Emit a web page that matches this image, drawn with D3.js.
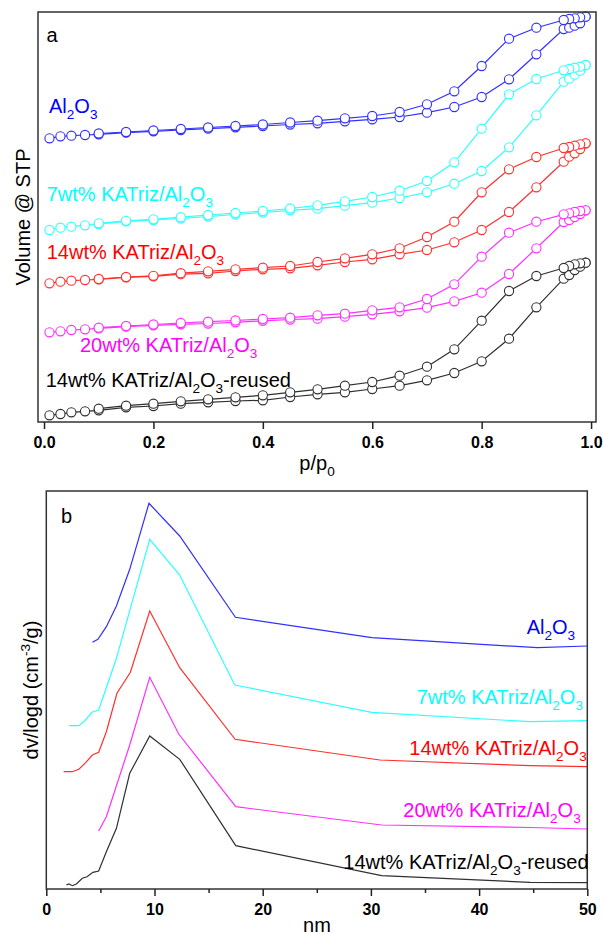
<!DOCTYPE html>
<html>
<head>
<meta charset="utf-8">
<script src="https://cdn.jsdelivr.net/npm/d3@7"></script>
<style>
  body { margin: 0; background: #fff; }
  svg { display: block; font-family: "Liberation Sans", Arial, sans-serif; }
</style>
</head>
<body>
<svg id="chart" width="603" height="935"></svg>
<script>
// ---- panel a: N2 isotherms (volume in arbitrary stacked units) ----
const pAds = [0.01,0.03,0.05,0.075,0.1,0.15,0.2,0.25,0.3,0.35,0.4,0.45,0.5,0.55,0.6,0.65,0.7,0.75,0.8,0.85,0.9,0.95,0.96,0.97,0.98,0.99]
const pDes = [0.99,0.98,0.97,0.96,0.95,0.9,0.85,0.8,0.75,0.7,0.65,0.6,0.55,0.5,0.45,0.4,0.35,0.3,0.25,0.2,0.15,0.1]

const al2o3Ads = [283.7,285.7,286.3,287,287.7,289.3,290.7,292,293.3,294.7,296,297.5,298.7,300.7,302.7,305,309.3,315,325,342.7,367.7,393,394.3,396.3,398.7,405.3]
const al2o3Des = [405.3,404.7,403.7,403,402,394.3,383.3,356,330.7,317.7,310,306,303.7,301.3,299.5,297.5,296,294.5,293,291.5,290,288.5]
const k7Ads = [192,194.3,195.3,196.7,198,200.7,202,203.5,205.5,207.5,209.5,211.7,213.3,216.3,219.3,224,229.7,238.3,251,274.7,306.7,340.3,343.3,347.3,351.3,357]
const k7Des = [357,355.3,354.3,353,351.7,343,327.7,293.3,259.7,241,231.3,225,220.7,216.7,213.5,211,209,207,204.8,202.7,201.2,198.7]
const k14Ads = [138.7,140.3,141.3,142,142.7,144.7,145.7,147.8,148.7,151,152.7,153.7,156.7,160,162.7,167.7,172,179.7,192,210,234.7,260.3,265.3,268.7,273,278.7]
const k14Des = [278.7,277.7,276.3,275,274,265,252.7,229.7,200.3,185,173.7,167.7,163.7,160,156,154.3,152.7,150.7,148.8,146.2,145,143]
const k20Ads = [89.7,90.7,92,92.7,93.7,95.3,96.7,97.7,98.5,99.7,101.2,102.5,103.3,105.3,107.7,110.7,114.3,120.7,129.3,148,173.7,200,202,205,208,211.7]
const k20Des = [211.7,211,210,208.7,207.7,200.3,189.3,165.3,137.7,123,114.7,111.7,108.3,106.7,104.3,103,101.5,100.3,99,97.5,96,94.3]
const reusedAds = [6.7,8,9.7,10.7,11.7,14.7,16,18.3,19.7,21,21.7,25,27.7,29.7,33,36.3,41.7,49,60.7,83.3,114.7,143.3,147,152,155.3,159.3]
const reusedDes = [159.3,158.7,157.7,156,154,146,131,101.3,72.7,55.3,46.3,40,36.3,32.7,29.7,26.7,24.7,22.7,20.7,18.3,16.3,13.3]

const pTicks = [0, 0.2, 0.4, 0.6, 0.8, 1.0]

// ---- panel b: pore size distributions ----
const al2o3D = [4.26,4.77,5.55,6.48,7.71,9.49,12.33,17.48,30.09,45.38,50]
const al2o3V = [246.7,249.7,262.3,283,319.7,385.7,353,271.7,251.3,241.3,243]
const k7D = [2.09,3.01,3.54,4.22,4.84,6.48,9.56,12.33,17.42,30.07,44.71,50]
const k7V = [163.3,163.3,168,176.7,179,230.7,349.7,314,204,176.7,167.3,168.3]
const k14D = [1.6,2.4,3.01,3.64,4.26,4.84,5.55,6.53,7.77,9.56,12.33,17.45,30.83,44.71,50]
const k14V = [117.3,117.3,119.7,126.3,134,136.7,157.3,195.7,216.7,278,221.3,149.7,129,123.3,122.3]
const k20D = [4.84,5.55,7.71,9.56,12.24,17.51,30.99,44.7,50]
const k20V = [58,72.3,144,211.7,155,82.3,64,61.5,60]
const reusedD = [1.85,2.09,2.41,2.78,3.33,3.76,4.31,4.84,5.55,6.48,7.71,9.56,12.33,17.51,30.99,44.71,50]
const reusedV = [4,5,3.3,5,10.7,12.3,16.7,18,37.3,60.7,115.7,153,129.7,43.3,13.3,6.7,6.3]

const dTicks = [0, 10, 20, 30, 40, 50]
const dMinor = [5, 15, 25, 35, 45]

const names = ["Al_2O_3", "7wt% KATriz/Al_2O_3", "14wt% KATriz/Al_2O_3", "20wt% KATriz/Al_2O_3", "14wt% KATriz/Al_2O_3-reused"]
const lineColors = ["#3030ff", "#30ffff", "#ff3030", "#ff30ff", "#303030"]
const textColors = ["#0000ff", "#00ffff", "#ff0000", "#ff00ff", "#000000"]

const svg = d3.select("#chart")

// writes "A_2B_3" style labels with subscripts
function richText(g, x, y, str, color, size, anchor) {
    const t = g.append("text")
        .attr("x", x).attr("y", y)
        .attr("fill", color)
        .attr("font-size", size)
        .attr("text-anchor", anchor || "start")
    const parts = str.split(/(_\w|\^-?\w)/).filter(s => s.length)
    let shift = 0
    parts.forEach(p => {
        if (p[0] === "_" || p[0] === "^") {
            const dy = p[0] === "_" ? 6 : -8
            t.append("tspan").attr("dy", dy - shift).attr("font-size", size * 0.68).text(p.slice(1))
            shift = dy
        } else {
            t.append("tspan").attr("dy", -shift).text(p)
            shift = 0
        }
    })
    return t
}

// ---------- panel a ----------
const xa = d3.scaleLinear().domain([-0.011, 1.009]).range([38, 596])
const ya = d3.scaleLinear().domain([0, 410]).range([422, 12])

const isotherms = [
    [al2o3Ads, al2o3Des], [k7Ads, k7Des], [k14Ads, k14Des], [k20Ads, k20Des], [reusedAds, reusedDes]
]

const ga = svg.append("g")
const line = d3.line().x(d => xa(d[0])).y(d => ya(d[1]))

isotherms.forEach(([ads, des], i) => {
    const a = pAds.map((p, j) => [p, ads[j]])
    const d = pDes.map((p, j) => [p, des[j]])
    const s = ga.append("g")
    s.append("path").datum(a).attr("d", line)
        .attr("fill", "none").attr("stroke", lineColors[i]).attr("stroke-width", 1.2)
    s.append("path").datum(d).attr("d", line)
        .attr("fill", "none").attr("stroke", lineColors[i]).attr("stroke-width", 1.2)
    s.selectAll("circle").data(a.concat(d)).join("circle")
        .attr("cx", d => xa(d[0])).attr("cy", d => ya(d[1])).attr("r", 4.6)
        .attr("fill", "white").attr("stroke", lineColors[i]).attr("stroke-width", 1.1)
})

ga.append("rect").attr("x", 38).attr("y", 12).attr("width", 558).attr("height", 410)
    .attr("fill", "none").attr("stroke", "#333").attr("stroke-width", 1.5)

const axA = ga.append("g").attr("transform", "translate(0,422)")
    .call(d3.axisBottom(xa).tickValues(pTicks).tickFormat(d3.format(".1f")).tickSize(7).tickPadding(7.6))
axA.select(".domain").remove()
axA.selectAll("line").attr("stroke", "#222").attr("stroke-width", 1.5)
axA.selectAll("text").attr("font-size", 16).attr("font-weight", "bold").attr("fill", "#000")
    .attr("font-family", "Liberation Sans, Arial, sans-serif")

richText(ga, 46.5, 41.5, "a", "#000", 20)
const topLabelPos = [[49, 112.5], [46.7, 200.5], [46.7, 258.5], [80, 352], [45.7, 387]]
names.forEach((n, i) => richText(ga, topLabelPos[i][0], topLabelPos[i][1], n, textColors[i], 20))

richText(ga, 317, 470, "p/p_0", "#000", 20, "middle")
ga.append("text").attr("transform", "translate(30,217) rotate(-90)")
    .attr("text-anchor", "middle").attr("font-size", 20).attr("fill", "#000")
    .text("Volume @ STP")

// ---------- panel b ----------
const xb = d3.scaleLinear().domain([0, 50]).range([46.3, 587.3])
const yb = d3.scaleLinear().domain([0, 398]).range([889, 491])

const psd = [[al2o3D, al2o3V], [k7D, k7V], [k14D, k14V], [k20D, k20V], [reusedD, reusedV]]
const gb = svg.append("g")
const lineB = d3.line().x(d => xb(d[0])).y(d => yb(d[1]))

psd.forEach(([ds, vs], i) => {
    gb.append("path").datum(ds.map((d, j) => [d, vs[j]])).attr("d", lineB)
        .attr("fill", "none").attr("stroke", lineColors[i]).attr("stroke-width", 1.2)
})

gb.append("rect").attr("x", 46.3).attr("y", 491).attr("width", 541).attr("height", 398)
    .attr("fill", "none").attr("stroke", "#333").attr("stroke-width", 1.5)

const axB = gb.append("g").attr("transform", "translate(0,889)")
    .call(d3.axisBottom(xb).tickValues(dTicks).tickFormat(d3.format("d")).tickSize(7).tickPadding(7.6))
axB.select(".domain").remove()
axB.selectAll("line").attr("stroke", "#222").attr("stroke-width", 1.5)
axB.selectAll("text").attr("font-size", 16).attr("font-weight", "bold").attr("fill", "#000")
    .attr("font-family", "Liberation Sans, Arial, sans-serif")

const axBm = gb.append("g").attr("transform", "translate(0,889)")
    .call(d3.axisBottom(xb).tickValues(dMinor).tickFormat("").tickSize(4))
axBm.select(".domain").remove()
axBm.selectAll("line").attr("stroke", "#222").attr("stroke-width", 1.5)

richText(gb, 61, 522.5, "b", "#000", 20)
const botLabelPos = [[526.7, 633.5], [416.7, 704], [409.3, 755], [403.3, 817], [343.3, 868.5]]
names.forEach((n, i) => richText(gb, botLabelPos[i][0], botLabelPos[i][1], n, textColors[i], 20))

richText(gb, 317, 932, "nm", "#000", 20, "middle")
const yl = gb.append("g").attr("transform", "translate(38,690) rotate(-90)")
richText(yl, 0, 0, "dv/logd (cm^-3/g)", "#000", 20, "middle")
</script>
</body>
</html>
